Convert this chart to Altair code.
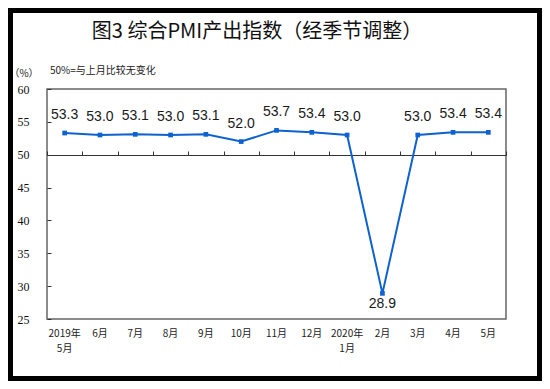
import altair as alt
import pandas as pd

months = ["2019年 5月", "6月", "7月", "8月", "9月", "10月", "11月", "12月",
          "2020年 1月", "2月", "3月", "4月", "5月"]
values = [53.3, 53.0, 53.1, 53.0, 53.1, 52.0, 53.7, 53.4, 53.0, 28.9, 53.0, 53.4, 53.4]
y_ticks = [25, 30, 35, 40, 45, 50, 55, 60]

title_text = "图3 综合PMI产出指数（经季节调整）"
unit_text = "（%）"
note_text = "50%=与上月比较无变化"

df = pd.DataFrame({"month": months, "value": values})
df["label"] = df["value"].map(lambda v: f"{v:.1f}")

BLUE = "#0E62CF"
W, H = 459, 230
PAD = {"left": 39, "top": 81, "right": 36, "bottom": 62}

xscale = alt.Scale(type="band", paddingInner=0, paddingOuter=0)
yscale = alt.Scale(domain=[25, 60], nice=False, zero=False)

base = alt.Chart(df)

x_bottom = alt.X("month:N", sort=months, scale=xscale, title=None,
                 axis=alt.Axis(orient="bottom", domain=False, ticks=False, tickSize=0,
                               labelAngle=0, labelPadding=9, labelFontSize=10,
                               labelFont="Noto Sans CJK SC", labelColor="#222",
                               labelLineHeight=15,
                               labelExpr="split(datum.label, ' ')"))
y_left = alt.Y("value:Q", scale=yscale, title=None,
               axis=alt.Axis(orient="left", values=y_ticks, domain=False, ticks=False,
                             tickSize=0, grid=False, labelPadding=18, labelFontSize=12,
                             labelFont="Liberation Serif", labelColor="#111"))

line = base.mark_line(color=BLUE, strokeWidth=2).encode(x=x_bottom, y=y_left)

x_top = alt.X("month:N", sort=months, scale=xscale, title=None,
              axis=alt.Axis(orient="top", offset=-66, labels=False, domain=True,
                            domainColor="#333", domainWidth=1, ticks=True, tickSize=4,
                            tickColor="#333", tickBand="extent"))
y_right = alt.Y("value:Q", scale=yscale, title=None,
                axis=alt.Axis(orient="right", offset=-W, values=y_ticks, labels=False,
                              domain=False, ticks=True, tickSize=4, tickColor="#333",
                              grid=False))
guides = base.mark_point(opacity=0).encode(x=x_top, y=y_right)

xn = alt.X("month:N", sort=months, axis=None)
yn = alt.Y("value:Q", axis=None)

pts = base.mark_point(shape="square", filled=True, size=22, color=BLUE, opacity=1).encode(
    x=xn, y=yn)

lbl_up = base.transform_filter("datum.value >= 50").mark_text(
    font="Liberation Sans", fontSize=14, color="#1a1a1a", baseline="middle", dy=-18
).encode(x=xn, y=yn, text="label:N")
lbl_dn = base.transform_filter("datum.value < 50").mark_text(
    font="Liberation Sans", fontSize=14, color="#1a1a1a", baseline="middle", dy=11
).encode(x=xn, y=yn, text="label:N")

one = alt.Chart(pd.DataFrame({"t": [title_text], "u": [unit_text], "n": [note_text]}))
title = one.mark_text(font="Noto Sans CJK SC", fontSize=20, fontWeight="normal",
                      color="#111", align="center", baseline="middle").encode(
    x=alt.value(210), y=alt.value(-57), text="t:N")
unit = one.mark_text(font="Noto Sans CJK SC", fontSize=10, color="#222",
                     align="center", baseline="middle").encode(
    x=alt.value(-23), y=alt.value(-15), text="u:N")
note = one.mark_text(font="Noto Sans CJK SC", fontSize=10, color="#222",
                     align="left", baseline="middle").encode(
    x=alt.value(3), y=alt.value(-18), text="n:N")
frame = one.mark_rect(fill=None, stroke="black", strokeWidth=5).encode(
    x=alt.value(-PAD["left"] + 2.5), x2=alt.value(W + PAD["right"] - 2.5),
    y=alt.value(-PAD["top"] + 2.5), y2=alt.value(H + PAD["bottom"] - 2.5))

chart = alt.layer(line, guides, pts, lbl_up, lbl_dn, title, unit, note, frame).resolve_axis(
    x="independent", y="independent"
).properties(
    width=W, height=H, padding=PAD, autosize="none", background="white"
).configure_view(stroke="#666", strokeWidth=1.5)

chart.save("out.html", embed_options={"renderer": "svg", "actions": False})
